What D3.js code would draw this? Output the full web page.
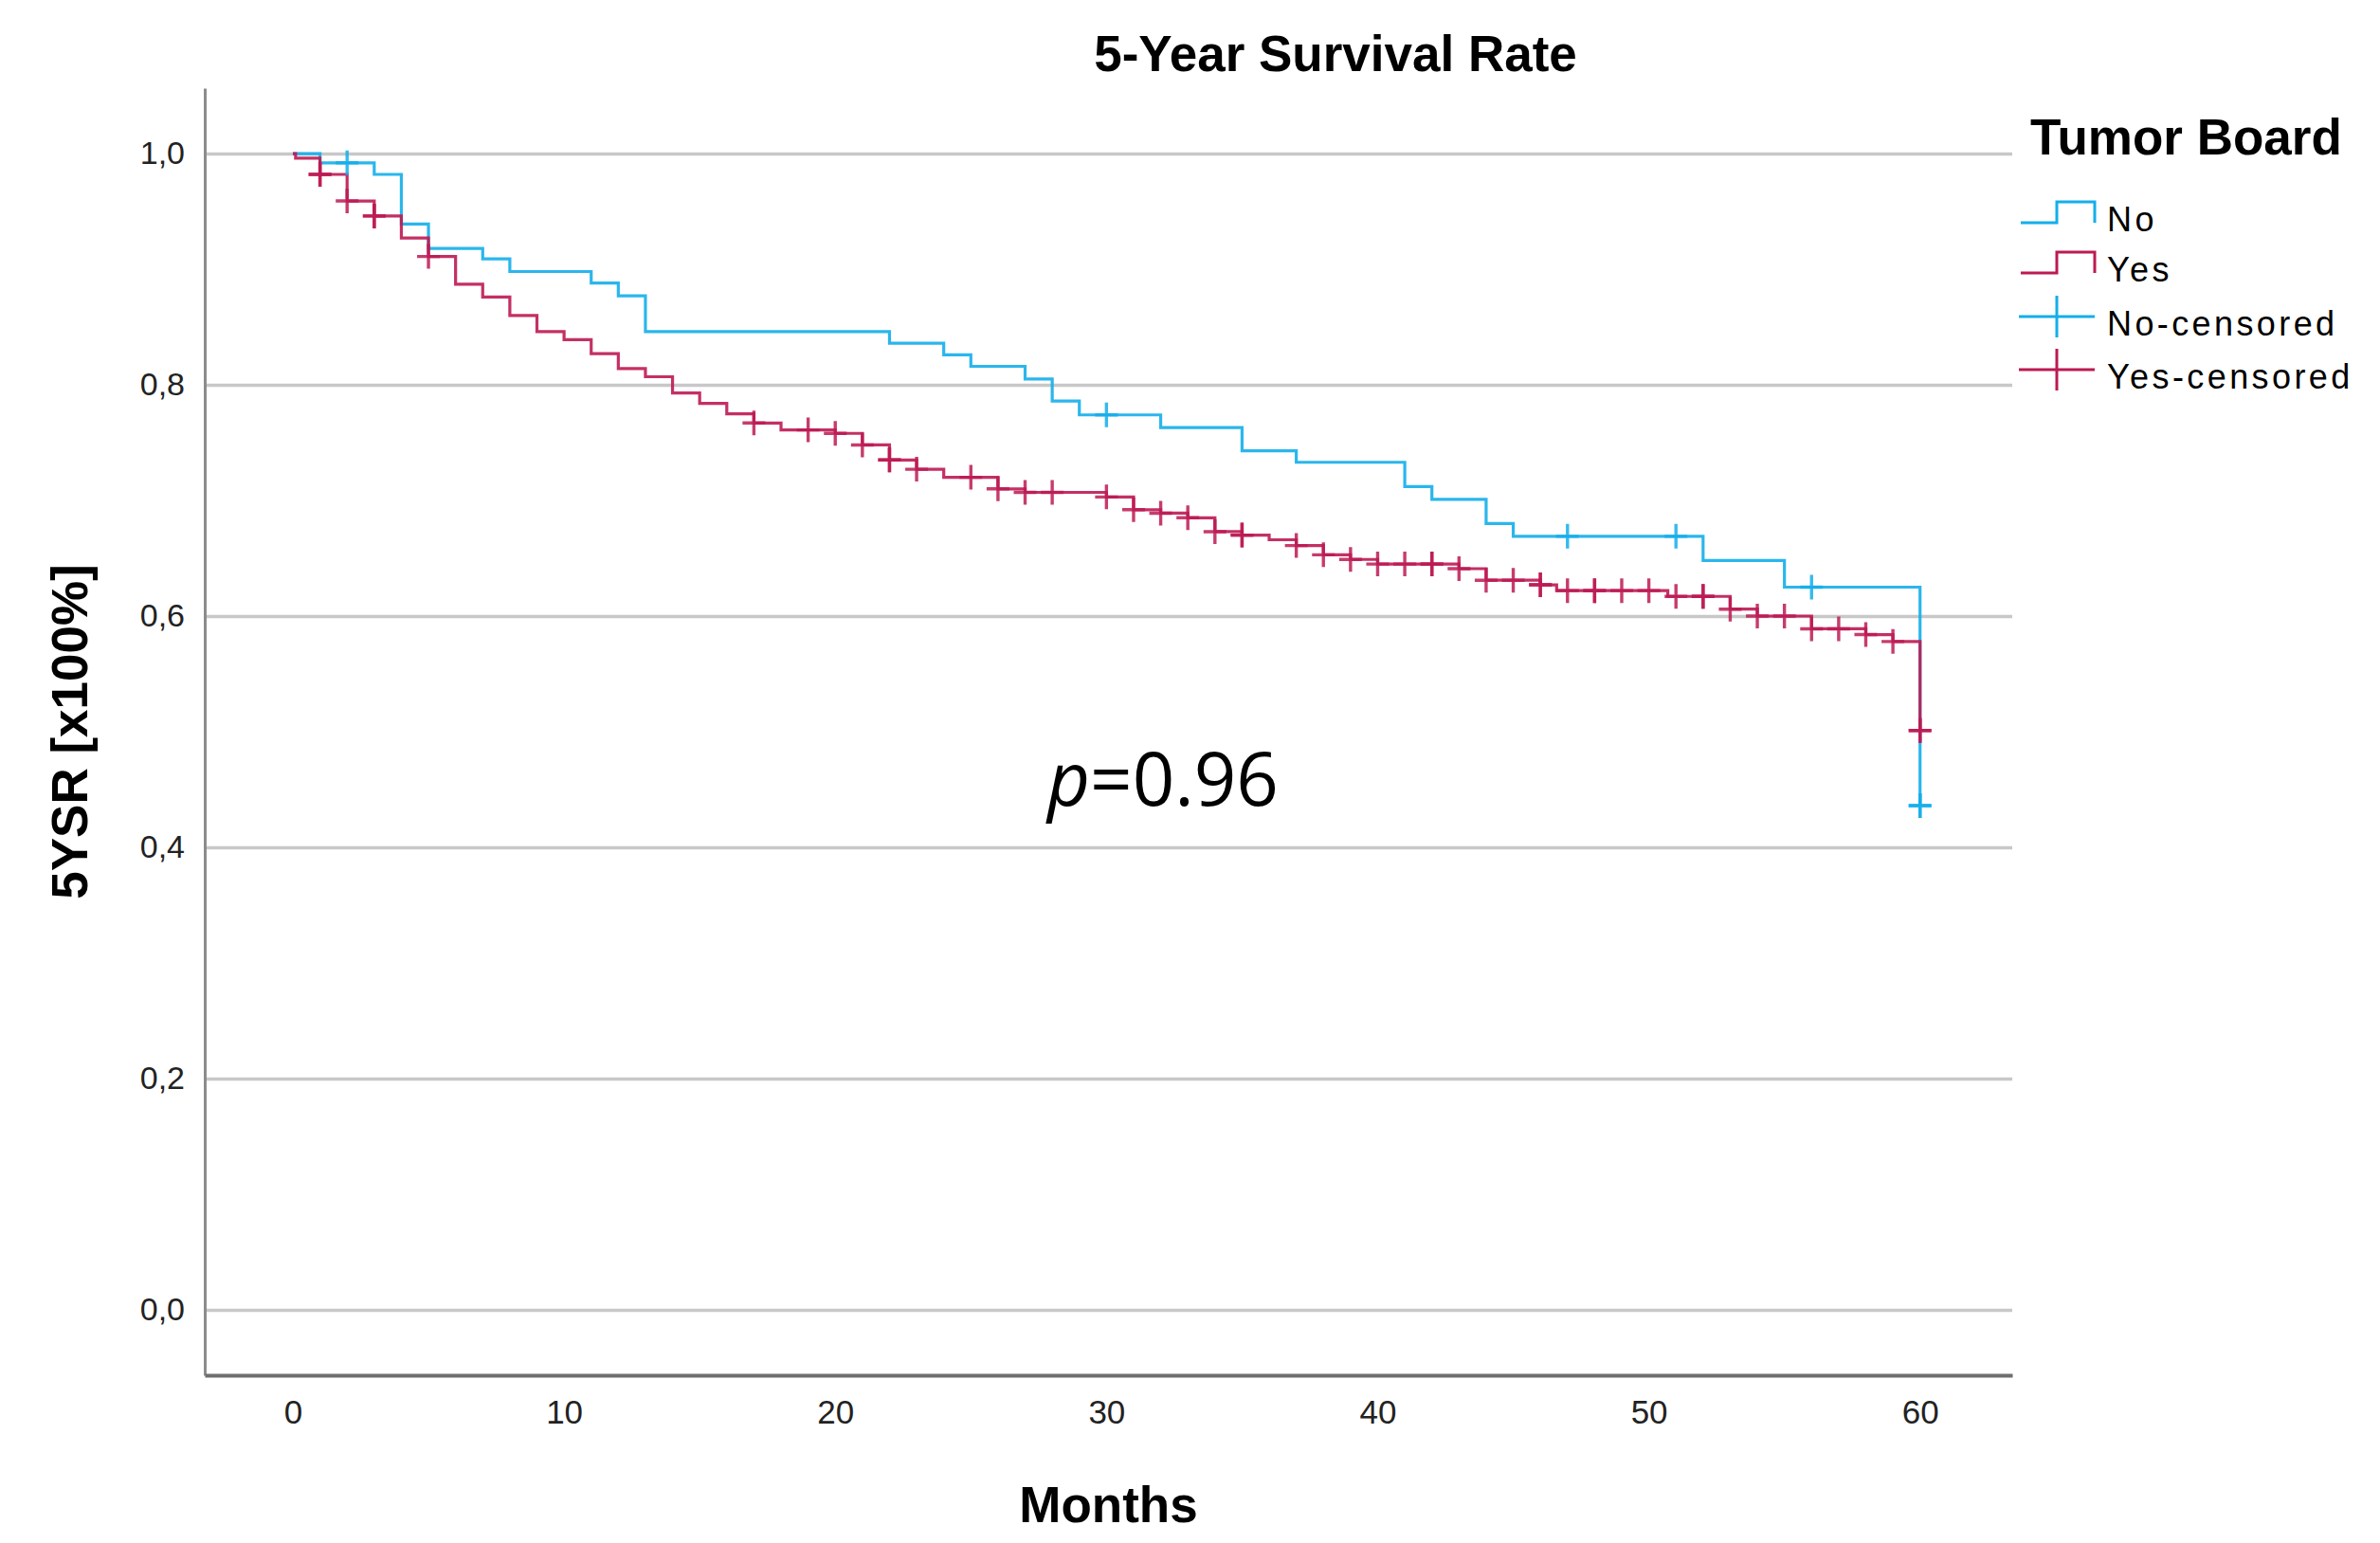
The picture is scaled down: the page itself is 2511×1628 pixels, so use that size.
<!DOCTYPE html>
<html>
<head>
<meta charset="utf-8">
<script src="https://cdn.jsdelivr.net/npm/d3@7"></script>
<style>
  html, body { margin: 0; padding: 0; background: #ffffff; }
  svg { display: block; }
</style>
</head>
<body>
<div id="chart"></div>
<script>
// ---------------- DATA ----------------
const xTicks = [0, 10, 20, 30, 40, 50, 60];
const yTicks = [0, 0.2, 0.4, 0.6, 0.8, 1.0];
const yTickLabels = ["0,0", "0,2", "0,4", "0,6", "0,8", "1,0"];

const groupNames = ["No", "Yes"];
const legendLabels = ["No", "Yes", "No-censored", "Yes-censored"];

// Tumor Board = No : step times (months) and survival after each step
const noTime = [0, 1, 3, 4, 5, 7, 8, 11, 12, 13, 22, 24, 25, 27, 28, 29, 32, 35, 37, 41, 42, 44, 45, 52, 55, 60];
const noSurv = [1.000, 0.992, 0.982, 0.939, 0.918, 0.909, 0.898, 0.888, 0.877, 0.846, 0.836, 0.826, 0.816, 0.805, 0.786, 0.774, 0.763, 0.743, 0.733, 0.712, 0.701, 0.680, 0.669, 0.648, 0.625, 0.436];
const noCensTime = [2, 30, 47, 51, 56, 60, 60];
const noCensSurv = [0.992, 0.774, 0.669, 0.669, 0.625, 0.436, 0.436];

// Tumor Board = Yes
const yesTime = [0, 0.1, 1, 2, 3, 4, 5, 6, 7, 8, 9, 10, 11, 12, 13, 14, 15, 16, 17, 18, 20, 21, 22, 23, 24, 26, 27, 30, 31, 32, 33, 34, 35, 36, 37, 38, 39, 40, 43, 44, 46, 46.6, 50.7, 53, 54, 56, 58, 59, 60];
const yesSurv = [1.000, 0.996, 0.982, 0.959, 0.946, 0.927, 0.911, 0.887, 0.876, 0.860, 0.846, 0.839, 0.827, 0.814, 0.807, 0.793, 0.784, 0.775, 0.767, 0.761, 0.758, 0.748, 0.735, 0.727, 0.720, 0.710, 0.707, 0.703, 0.692, 0.689, 0.685, 0.673, 0.670, 0.666, 0.661, 0.653, 0.649, 0.645, 0.641, 0.631, 0.627, 0.622, 0.617, 0.606, 0.600, 0.589, 0.584, 0.578, 0.501];
const yesCensTime = [1, 1, 2, 3, 3, 5, 17, 19, 20, 21, 22, 22, 23, 25, 26, 27, 28, 30, 31, 32, 33, 34, 35, 35, 37, 38, 39, 40, 41, 42, 42, 43, 44, 45, 46, 46, 47, 48, 48, 49, 50, 51, 52, 52, 53, 54, 55, 56, 57, 58, 59, 60, 60];
const yesCensSurv = [0.982, 0.982, 0.959, 0.946, 0.946, 0.911, 0.767, 0.761, 0.758, 0.748, 0.735, 0.735, 0.727, 0.720, 0.710, 0.707, 0.707, 0.703, 0.692, 0.689, 0.685, 0.673, 0.670, 0.670, 0.661, 0.653, 0.649, 0.645, 0.645, 0.645, 0.645, 0.641, 0.631, 0.631, 0.627, 0.627, 0.622, 0.622, 0.622, 0.622, 0.622, 0.617, 0.617, 0.617, 0.606, 0.600, 0.600, 0.589, 0.589, 0.584, 0.578, 0.501, 0.501];

const titleText = "5-Year Survival Rate";
const xLabel = "Months";
const yLabel = "5YSR [x100%]";
const legendTitle = "Tumor Board";
const pLabelVar = "p";
const pLabelVal = "=0.96";

// ---------------- LAYOUT ----------------
const W = 2511, H = 1628;
const plot = { left: 216, right: 2123, top: 93, bottom: 1451 };
const colors = { No: "#14AEEA", Yes: "#BC1A53" };
const sansFont = "'Liberation Sans', Arial, Helvetica, sans-serif";

const svg = d3.select("#chart").append("svg")
  .attr("width", W).attr("height", H)
  .attr("viewBox", `0 0 ${W} ${H}`);
svg.append("rect").attr("width", W).attr("height", H).attr("fill", "#fff");

const x = d3.scaleLinear().domain([-3.25, 63.4]).range([plot.left, plot.right]);
const y = d3.scaleLinear().domain([-0.0566, 1.0566]).range([plot.bottom, plot.top]);

// Gridlines
svg.append("g")
  .attr("transform", `translate(${plot.left},0)`)
  .call(d3.axisLeft(y).tickValues(yTicks).tickSize(-(plot.right - plot.left)).tickFormat(""))
  .call(g => g.select(".domain").remove())
  .call(g => g.selectAll(".tick line").attr("stroke", "#c8c8c8").attr("stroke-width", 3.5));

// Y axis
svg.append("g")
  .attr("transform", `translate(${plot.left},0)`)
  .call(d3.axisLeft(y).tickValues(yTicks).tickSize(0).tickPadding(21)
        .tickFormat((d, i) => yTickLabels[i]))
  .call(g => g.select(".domain").attr("stroke", "#8c8c8c").attr("stroke-width", 3))
  .call(g => g.selectAll(".tick text")
        .attr("font-family", sansFont).attr("font-size", 34).attr("fill", "#222"));

// X axis
svg.append("g")
  .attr("transform", `translate(0,${plot.bottom})`)
  .call(d3.axisBottom(x).tickValues(xTicks).tickSize(0).tickPadding(26).tickFormat(d3.format("d")))
  .call(g => g.select(".domain").attr("stroke", "#6e6e6e").attr("stroke-width", 4))
  .call(g => g.selectAll(".tick text")
        .attr("font-family", sansFont).attr("font-size", 35).attr("fill", "#222"));

// Curves
const stepLine = d3.line()
  .x(d => x(d[0]))
  .y(d => y(d[1]))
  .curve(d3.curveStepAfter);

const series = [
  { name: "No", pts: d3.zip(noTime, noSurv), cens: d3.zip(noCensTime, noCensSurv) },
  { name: "Yes", pts: d3.zip(yesTime, yesSurv), cens: d3.zip(yesCensTime, yesCensSurv) }
];

series.forEach(s => {
  svg.append("path")
    .datum(s.pts)
    .attr("d", stepLine)
    .attr("fill", "none")
    .attr("stroke", colors[s.name])
    .attr("stroke-width", 3.2)
    .attr("stroke-opacity", 0.9)
    .attr("stroke-linejoin", "miter");
});

const crossH = 13, crossW = 12;
series.forEach(s => {
  const g = svg.append("g").attr("stroke", colors[s.name]).attr("stroke-width", 3.4).attr("stroke-opacity", 0.85);
  g.selectAll("path.cens").data(s.cens).join("path")
    .attr("class", "cens")
    .attr("fill", "none")
    .attr("d", d => {
      const cx = x(d[0]), cy = y(d[1]);
      return `M${cx - crossW},${cy}H${cx + crossW}M${cx},${cy - crossH}V${cy + crossH}`;
    });
});

// Title
svg.append("text")
  .attr("x", 1409).attr("y", 75)
  .attr("text-anchor", "middle")
  .attr("font-family", sansFont).attr("font-weight", "bold").attr("font-size", 53)
  .attr("fill", "#000")
  .text(titleText);

// Axis titles
svg.append("text")
  .attr("x", (plot.left + plot.right) / 2).attr("y", 1606)
  .attr("text-anchor", "middle")
  .attr("font-family", sansFont).attr("font-weight", "bold").attr("font-size", 53)
  .attr("fill", "#000")
  .text(xLabel);

svg.append("text")
  .attr("transform", `translate(92,${(plot.top + plot.bottom) / 2}) rotate(-90)`)
  .attr("text-anchor", "middle")
  .attr("font-family", sansFont).attr("font-weight", "bold").attr("font-size", 53)
  .attr("fill", "#000")
  .text(yLabel);

// p-value annotation
const pText = svg.append("text")
  .attr("x", 1105).attr("y", 850)
  .attr("font-family", "'Open Sans', 'Noto Sans', sans-serif").attr("font-size", 78)
  .attr("fill", "#000");
pText.append("tspan").attr("font-style", "italic").text(pLabelVar);
pText.append("tspan").text(pLabelVal);

// Legend
svg.append("text")
  .attr("x", 2142).attr("y", 163)
  .attr("font-family", sansFont).attr("font-weight", "bold").attr("font-size", 53)
  .attr("fill", "#000")
  .text(legendTitle);

const legendBase = [244, 297, 354, 410];
const legendColor = [colors.No, colors.Yes, colors.No, colors.Yes];
const lg = svg.append("g");
legendLabels.forEach((lab, i) => {
  const b = legendBase[i];
  if (i < 2) {
    const low = b - 9, high = b - 31;
    lg.append("path")
      .attr("d", `M2132,${low}H2170V${high}H2210V${low}`)
      .attr("fill", "none").attr("stroke", legendColor[i]).attr("stroke-width", 3);
  } else {
    const cy = b - 20;
    lg.append("path")
      .attr("d", `M2130,${cy}H2210M2170,${cy - 22}V${cy + 22}`)
      .attr("fill", "none").attr("stroke", legendColor[i]).attr("stroke-width", 3);
  }
  lg.append("text")
    .attr("x", 2223).attr("y", b)
    .attr("font-family", sansFont).attr("font-size", 36)
    .attr("letter-spacing", 3.4)
    .attr("fill", "#000")
    .text(lab);
});
</script>
</body>
</html>
